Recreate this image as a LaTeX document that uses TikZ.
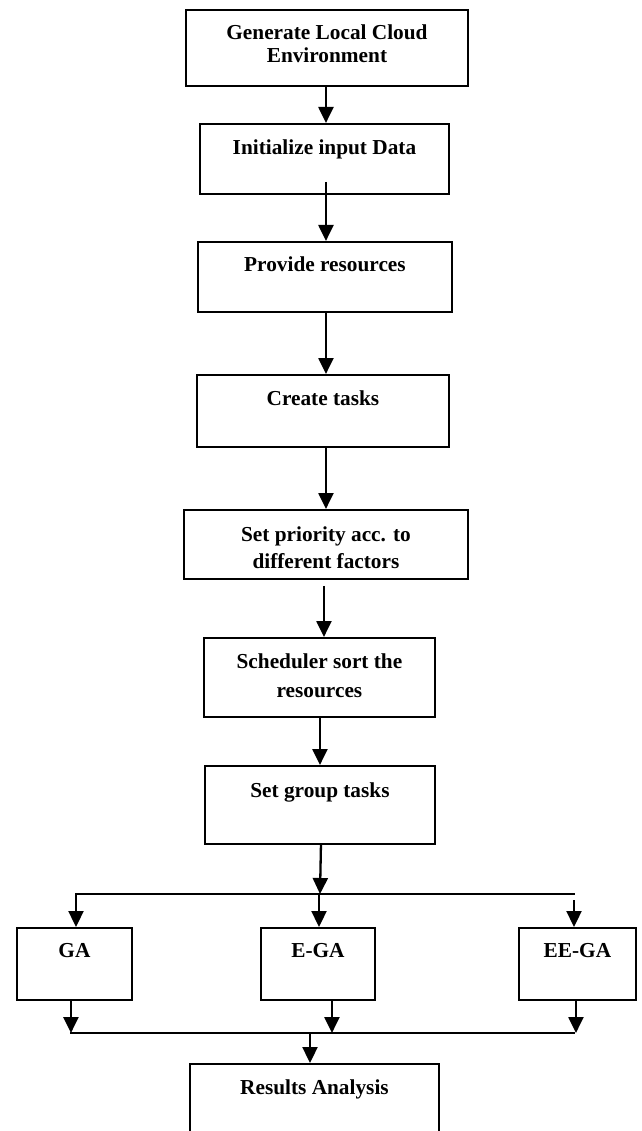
\documentclass[tikz,border=0pt]{standalone}
\usepackage{fontspec}
\setmainfont{Liberation Serif}
\usetikzlibrary{arrows.meta}
\begin{document}
\begin{tikzpicture}[x=1pt,y=-1pt,
  box/.style={draw, line width=1.9pt, inner sep=0pt, anchor=north west},
  lbl/.style={anchor=base, inner sep=0pt, font=\fontsize{21.3}{25}\selectfont\bfseries},
  arr/.style={line width=2.3pt, -{Triangle[width=15pt,length=16pt]}},
  ln/.style={line width=1.9pt}]
\useasboundingbox (0,0) rectangle (641,1131);
% boxes
\node[box, minimum width=282pt, minimum height=76pt] (b1) at (185,9) {};
\node[box, minimum width=249pt, minimum height=70pt] (b2) at (199,123) {};
\node[box, minimum width=254pt, minimum height=70pt] (b3) at (197,241) {};
\node[box, minimum width=252pt, minimum height=72pt] (b4) at (196,374) {};
\node[box, minimum width=284pt, minimum height=69pt] (b5) at (183,509) {};
\node[box, minimum width=231pt, minimum height=79pt] (b6) at (203,637) {};
\node[box, minimum width=230pt, minimum height=78pt] (b7) at (204,765) {};
\node[box, minimum width=115pt, minimum height=72pt] (ga) at (16,927) {};
\node[box, minimum width=114pt, minimum height=72pt] (ega) at (260,927) {};
\node[box, minimum width=117pt, minimum height=72pt] (eega) at (518,927) {};
\node[box, minimum width=249pt, minimum height=120pt] (res) at (189,1063) {};
% labels
\node[lbl] (t1a) at ([yshift=-31pt]b1.north) {Generate Local Cloud};
\node[lbl] (t1b) at ([yshift=-54pt]b1.north) {Environment};
\node[lbl] (t2) at ([yshift=-32pt]b2.north) {Initialize input Data};
\node[lbl] (t3) at ([yshift=-31pt]b3.north) {Provide resources};
\node[lbl] (t4) at ([yshift=-31pt]b4.north) {Create tasks};
\node[lbl] (t5a) at ([yshift=-32pt]b5.north) {Set priority acc. to};
\node[lbl] (t5b) at ([yshift=-59pt]b5.north) {different factors};
\node[lbl] (t6a) at ([yshift=-31pt]b6.north) {Scheduler sort the};
\node[lbl] (t6b) at ([yshift=-60pt]b6.north) {resources};
\node[lbl] (t7) at ([yshift=-32pt]b7.north) {Set group tasks};
\node[lbl] (tga) at ([yshift=-30pt]ga.north) {GA};
\node[lbl] (tega) at ([yshift=-30pt]ega.north) {E-GA};
\node[lbl] (teega) at ([yshift=-30pt]eega.north) {EE-GA};
\node[lbl] (tres) at ([yshift=-31pt]res.north) {Results Analysis};
% vertical chain
\coordinate (s1) at ([xshift=-1pt]b1.south);
\coordinate (s2) at ([xshift=1.5pt,yshift=13pt]b2.south);
\coordinate (s3) at ([xshift=1pt]b3.south);
\coordinate (s4) at ([xshift=3pt]b4.south);
\coordinate (s5) at ([xshift=-2pt,yshift=-6pt]b5.south);
\coordinate (s6) at ([xshift=0.5pt]b6.south);
\coordinate (s7) at ([xshift=1pt]b7.south);
\draw[arr] (s1) -- (s1 |- b2.north);
\draw[arr] (s2) -- (s2 |- b3.north);
\draw[arr] (s3) -- (s3 |- b4.north);
\draw[arr] (s4) -- (s4 |- b5.north);
\draw[arr] (s5) -- (s5 |- b6.north);
\draw[arr] (s6) -- (s6 |- b7.north);
% split
\coordinate (jt) at (320,894);
\coordinate (hl) at (75,894);
\coordinate (hr) at (575,894);
\draw[arr] (s7) -- (jt);
\draw[ln] (hl) -- (hr);
\coordinate (gain) at (76,894);
\coordinate (egain) at (319,894);
\coordinate (eegain) at (574,900);
\draw[arr] (gain) -- (gain |- ga.north);
\draw[arr] (egain) -- (egain |- ega.north);
\draw[arr] (eegain) -- (eegain |- eega.north);
% merge
\coordinate (bl) at (70,1033);
\coordinate (br) at (575,1033);
\coordinate (gaout) at ([xshift=-3.5pt]ga.south);
\coordinate (egaout) at ([xshift=14pt]ega.south);
\coordinate (eegaout) at ([xshift=-1.5pt]eega.south);
\draw[arr] (gaout) -- (gaout |- bl);
\draw[arr] (egaout) -- (egaout |- bl);
\draw[arr] (eegaout) -- (eegaout |- bl);
\draw[ln] (bl) -- (br);
\coordinate (rin) at (310,1033);
\draw[arr] (rin) -- (rin |- res.north);
\end{tikzpicture}
\end{document}
